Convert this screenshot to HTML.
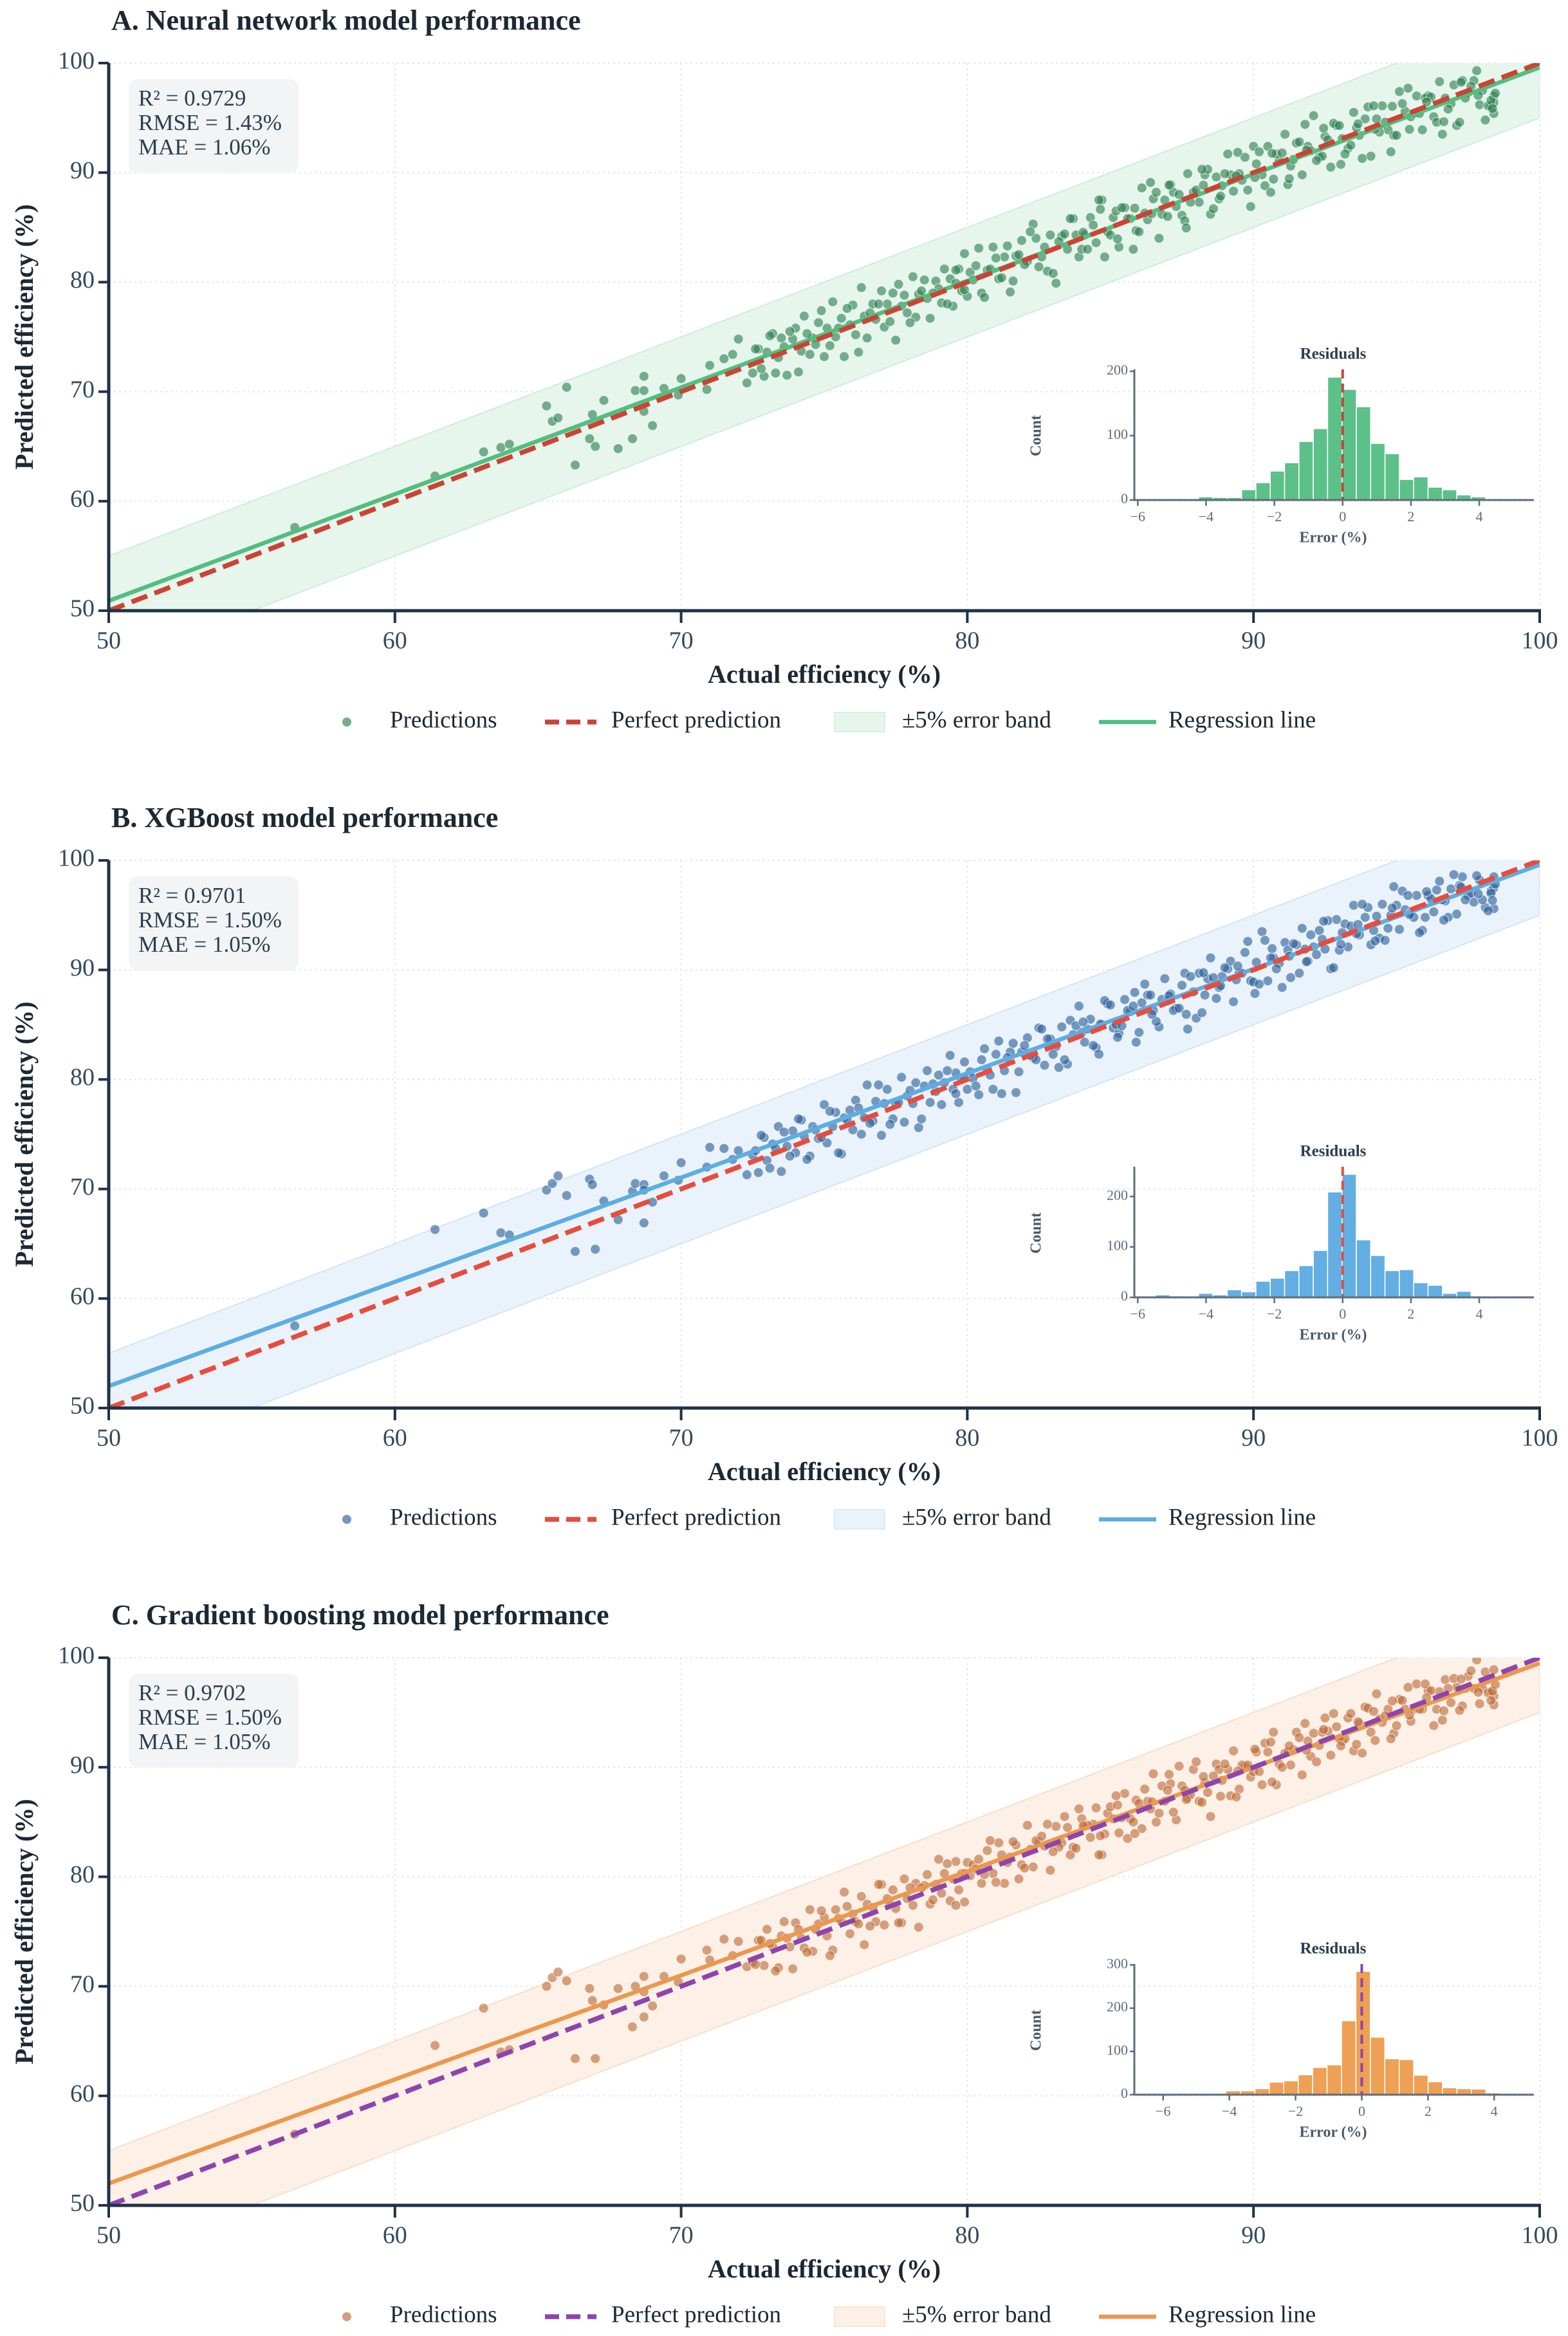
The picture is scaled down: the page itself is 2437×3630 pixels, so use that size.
<!DOCTYPE html>
<html><head><meta charset="utf-8">
<style>
html,body{margin:0;padding:0;background:#fff;}
svg{display:block;font-family:"Liberation Serif",serif;}
</style></head>
<body>
<svg id="chart" width="2437" height="3630" viewBox="0 0 2437 3630" xmlns="http://www.w3.org/2000/svg"></svg>
<script>
// ---------- DATA ----------
const actual = [
56.5,61.4,63.1,63.7,64.0,65.3,65.5,65.7,66.0,66.3,66.8,66.9,67.0,67.3,67.8,68.3,68.4,68.7,68.7,68.7,69.0,69.4,69.9,70.0,70.9,71.0,71.5,71.8,72.0,72.3,
72.5,72.7,72.9,73.0,73.2,73.4,73.5,73.7,73.9,74.0,74.2,74.3,74.5,74.6,74.8,75.0,75.1,75.3,75.4,75.6,75.7,75.9,76.0,76.1,76.3,76.4,76.5,76.7,76.8,77.0,77.1,77.2,77.4,77.5,77.7,77.8,77.9,78.1,78.2,78.3,78.5,78.6,78.7,78.9,79.0,79.1,79.2,79.4,79.5,79.6,79.7,79.8,79.9,80.0,80.1,80.2,
80.3,80.5,80.7,80.9,81.1,81.3,81.5,81.7,81.9,82.1,82.3,82.5,82.7,82.9,83.1,83.3,83.5,83.7,83.9,84.1,84.3,84.5,84.7,84.9,85.1,85.3,85.5,85.7,85.9,86.1,86.3,86.5,86.7,86.9,87.1,87.3,87.5,87.7,87.9,88.1,88.3,88.5,88.7,88.9,89.1,89.3,89.5,89.7,89.9,90.1,90.3,90.5,90.7,90.9,91.1,91.3,91.5,91.7,91.9,92.1,92.3,92.5,92.7,92.9,93.1,93.3,93.5,93.7,93.9,94.1,94.3,94.5,94.7,94.9,95.1,95.3,95.5,95.7,95.9,96.1,96.3,96.5,96.7,96.9,97.1,97.3,97.5,97.7,97.9,98.1,98.3,
82.0,82.4,82.8,83.2,83.6,84.0,84.4,84.8,85.2,85.6,86.0,86.4,86.8,87.2,87.6,88.0,88.4,88.8,89.2,89.6,90.0,90.4,90.8,91.2,91.6,92.0,92.4,92.8,93.2,93.6,94.0,94.4,94.8,95.2,95.6,96.0,96.4,96.8,97.2,97.6,98.0,98.4,98.4,98.4,
72.6,72.8,73.1,73.3,73.6,73.8,74.1,74.4,74.7,74.9,75.2,75.5,75.8,76.2,76.6,76.9,77.3,77.6,78.0,78.4,78.8,79.3,79.6,79.9,80.4,80.6,80.8,81.0,81.2,81.4,
81.6,81.8,82.2,82.6,83.0,83.4,83.8,84.2,84.6,85.0,85.4,85.8,86.2,86.6,87.0,87.4,87.8,88.2,88.6,89.0,89.4,89.8,90.2,90.6,91.0,91.4,91.8,92.2,92.6,93.0,93.4,93.8,94.2,94.6,95.0,95.4,95.8,96.2,96.6,97.0,97.4,97.8,98.2,
84.05,84.65,85.25,85.85,86.45,87.05,87.65,88.25,88.85,89.45,90.05,90.65,91.25,91.85,92.45,93.05,93.65,94.25,94.85,95.45,96.05,96.65,97.25,97.85,98.3,98.35,98.45];
const residA = [
1.1,0.9,1.4,1.2,1.2,3.4,1.8,1.9,4.4,-3.0,-1.1,1.0,-2.0,1.9,-3.0,-2.6,1.7,2.7,1.4,-0.5,-2.1,0.9,-0.2,1.2,-0.7,1.4,1.5,1.6,2.8,-1.5,
-0.8,1.2,-1.5,0.6,2.1,-0.3,1.4,-2.2,0.9,1.8,-0.5,2.6,-1.1,0.3,1.5,-1.8,0.7,2.9,-0.4,1.1,-2.5,0.2,1.9,-0.9,3.2,0.5,-1.6,1.3,-0.2,2.2,-1.2,0.8,1.6,-2.8,0.1,1.0,-0.7,2.4,-1.4,0.6,1.7,-0.1,-2.0,1.2,0.4,-1.0,2.0,0.9,-1.7,0.3,1.5,-0.6,2.7,-1.3,0.8,0.0,
1.2,-1.5,0.4,2.3,-0.8,1.0,-2.4,0.7,1.9,-0.2,3.0,-1.1,0.5,1.4,-3.2,0.9,-0.5,2.1,-1.6,0.2,1.6,-0.9,2.8,-0.3,0.8,-2.1,1.3,0.1,-1.2,2.5,-0.6,1.1,-2.7,0.6,1.8,-0.4,-1.4,2.2,0.3,-0.8,1.5,-2.3,0.9,-0.1,2.6,-1.0,0.4,1.7,-3.0,0.7,-0.5,1.9,-1.3,0.2,2.4,-0.7,1.2,-1.9,0.5,3.1,-0.9,0.8,-2.2,1.4,0.0,-1.1,2.0,-0.3,1.0,-2.6,0.6,1.6,-0.8,-1.5,2.3,0.3,-0.4,1.3,-2.0,0.9,-1.2,1.8,0.1,-0.6,-2.8,1.1,-0.2,0.7,-1.7,-3.3,-2.2,
-0.4,1.6,-1.8,0.5,2.2,-1.0,0.8,-2.5,1.3,0.2,-1.4,2.7,-0.6,1.0,-2.0,0.4,1.9,-1.2,0.6,-0.3,2.4,-1.6,0.9,-2.3,1.2,0.0,-0.9,1.7,-1.5,0.5,2.0,-0.7,-2.9,1.1,-0.2,0.8,-1.8,-1.0,-2.6,0.3,-0.5,-1.4,-3.0,-2.0,
1.3,-0.7,2.0,-1.6,0.5,1.7,-2.3,0.9,-0.4,2.5,-1.0,0.3,1.8,-2.6,0.6,1.1,-0.9,2.2,-1.7,0.8,0.2,-1.3,1.5,-0.6,2.7,-2.0,0.4,1.2,-0.8,1.9,
-1.5,0.7,2.4,-0.3,-2.2,1.0,0.5,-1.2,2.9,-0.7,1.4,-2.8,0.1,1.6,-1.0,0.6,-0.5,2.1,-1.9,0.9,0.3,-1.4,1.7,-2.4,0.8,-0.2,2.6,-1.1,0.4,1.3,-0.9,-2.5,1.9,0.0,-1.6,2.3,-0.4,0.7,-3.1,1.0,-0.6,1.5,-2.1,
0.5,2.0,-1.3,0.9,-0.2,1.8,-2.7,0.6,-1.0,2.4,-0.5,1.1,-1.8,0.2,1.6,-2.3,0.8,-0.3,1.2,-1.5,0.4,-2.0,1.0,-0.8,-1.7,-2.5,-1.2];
const residB = [
1.0,4.9,4.7,2.3,1.8,4.6,5.0,5.5,3.4,-2.0,4.1,3.5,-2.5,1.6,-0.6,1.5,2.1,1.7,1.2,-1.8,-0.2,1.8,0.9,2.4,1.1,2.8,2.2,0.9,1.5,-1.0,
0.6,-1.2,1.8,-0.4,0.9,2.3,-1.9,0.2,1.4,-0.7,2.1,0.5,-1.5,1.1,-0.2,2.7,-0.9,0.4,1.6,-2.4,0.8,1.3,-0.6,2.0,-1.3,0.1,3.0,-0.5,1.2,-2.1,0.7,1.9,-1.0,0.3,2.5,-1.7,0.6,-0.3,1.5,-2.7,0.9,2.2,-0.8,0.0,1.4,-1.4,0.5,2.8,-0.4,1.0,-1.8,0.2,1.7,-0.9,0.6,-0.1,
-0.9,1.3,0.2,-1.8,2.4,-0.5,1.0,-2.9,0.6,1.7,-0.3,2.2,-1.4,0.8,-0.1,1.5,-2.1,0.4,2.8,-0.7,1.2,-1.6,0.3,2.0,-0.4,-1.1,1.8,0.5,-2.5,0.9,1.4,-0.2,-1.9,2.3,0.7,-0.8,1.1,-3.1,0.1,1.6,-0.6,2.6,-1.3,0.5,1.0,-2.2,0.2,1.9,-0.9,0.6,3.2,-1.5,0.4,-0.3,1.4,-2.0,0.8,2.1,-1.1,0.0,1.3,-0.6,-2.6,1.7,0.3,-1.2,2.4,-0.5,0.9,-1.8,0.6,1.5,-0.9,2.7,-1.4,0.2,-0.3,1.1,-2.3,0.7,-1.0,1.6,-0.4,0.5,-2.0,1.2,-0.7,-1.5,0.3,-2.4,-1.1,
1.1,-0.6,0.9,-2.1,1.8,0.3,-1.3,2.4,-0.2,0.7,-1.7,1.3,0.5,-0.9,2.1,-2.4,0.8,-0.4,1.6,0.1,-1.1,2.3,-0.7,0.6,-1.9,1.2,0.4,-2.6,1.0,-0.3,1.7,-1.5,0.2,2.0,-0.8,-1.2,0.9,-2.0,0.5,-0.6,-1.6,-0.9,-2.8,0.1,
0.9,2.1,-1.2,0.4,1.6,-0.8,2.3,-1.7,0.7,-0.2,1.9,-2.2,0.5,1.2,-0.6,2.6,-1.4,0.3,1.0,-2.0,0.8,1.5,-0.9,0.2,-1.8,2.2,-0.4,1.3,-2.5,0.6,
1.7,-1.1,0.0,2.0,-0.7,-1.6,1.1,0.4,-2.3,1.8,-0.5,0.9,2.5,-1.3,0.2,-0.9,1.6,-2.1,0.7,1.2,-0.3,2.8,-1.5,0.5,-2.6,1.0,0.1,-0.8,1.9,-1.2,0.6,2.2,-0.6,-1.9,0.9,1.4,-2.4,0.3,-0.2,1.7,-1.0,0.8,-2.8,
1.2,0.4,-1.4,2.1,-0.5,0.6,-1.7,1.5,-0.3,0.9,-2.2,1.3,0.0,-1.1,2.0,-0.7,0.5,-1.6,0.8,-0.4,1.1,-2.1,0.3,-0.9,-1.3,-2.0,-0.6];
const residC = [
0.0,3.2,4.9,0.3,0.2,4.7,5.3,5.6,4.5,-2.9,3.0,1.8,-3.6,1.0,2.0,-2.0,1.6,0.8,2.2,-1.5,-0.8,1.5,0.5,2.5,2.4,1.4,2.8,1.0,2.1,-0.5,
-0.3,1.5,-1.0,2.2,0.4,-1.7,1.1,0.7,-2.3,1.8,0.2,-0.8,2.5,-1.4,0.9,1.3,-0.5,-2.0,1.6,0.3,2.9,-1.1,0.6,-0.2,1.9,-2.6,1.0,0.5,-0.9,2.3,-1.5,0.8,1.4,-0.4,-1.9,2.0,0.1,-0.7,1.2,-2.9,0.7,1.6,-1.2,0.4,2.6,-0.6,1.1,-1.6,0.3,1.8,-0.9,0.5,-2.2,1.3,0.0,0.9,
0.4,-1.1,1.7,-0.6,2.0,-1.9,0.3,1.2,-0.8,2.6,-1.4,0.7,0.1,-2.3,1.5,-0.2,1.0,-1.0,2.3,0.5,-0.7,1.8,-2.7,0.9,0.2,-1.3,2.1,-0.4,1.1,-1.7,0.6,2.9,-0.9,0.0,1.4,-2.1,0.8,-0.5,1.9,-1.2,0.3,-3.0,1.6,-0.1,0.7,2.2,-1.5,0.4,-0.8,1.3,-1.9,0.9,2.5,-0.6,0.2,-1.1,1.7,-2.4,0.5,1.0,-0.3,2.0,-1.6,0.8,-0.7,1.2,-2.0,0.3,1.6,-0.9,2.4,-0.4,0.6,-1.8,1.1,0.0,-1.3,1.9,-0.6,0.9,-2.5,0.4,1.3,-1.0,0.2,-1.7,0.8,-0.5,-2.1,0.6,-1.4,
-1.2,0.9,2.0,-0.5,-1.6,1.3,0.4,-0.9,2.2,-2.1,0.7,-0.2,1.5,-1.3,0.3,2.5,-0.7,1.0,-1.8,0.6,-0.4,1.8,-2.4,0.2,1.1,-1.0,0.8,2.1,-0.6,-1.5,1.4,0.0,-2.2,0.9,-0.3,1.6,-1.1,0.4,-2.0,1.2,-0.8,-1.9,0.5,-2.7,
-0.6,1.4,0.8,-1.9,2.3,-0.2,1.1,-1.3,0.5,2.0,-2.4,0.7,1.5,-0.5,-1.1,2.4,0.2,-1.8,1.0,0.6,-0.9,1.9,-2.2,0.4,1.2,-0.4,2.5,-1.5,0.8,-0.1,
1.6,-2.0,0.3,1.1,-0.7,2.1,-1.2,0.5,-2.6,1.4,0.0,-0.8,1.8,-1.6,0.9,2.7,-0.3,-1.4,0.6,1.3,-2.1,0.4,-0.6,1.7,-1.0,0.2,2.2,-1.7,0.7,-0.4,1.5,-2.5,0.9,0.1,-1.2,1.9,-0.5,0.8,-2.3,1.1,-0.2,2.0,-1.4,
0.6,-0.9,1.3,-1.9,0.4,2.3,-0.6,0.9,-1.5,0.2,1.6,-2.0,0.7,-0.3,1.0,-1.1,0.5,-1.8,1.2,-0.7,0.3,-1.5,0.8,-1.0,-2.2,-1.4,-0.9];

// regression line endpoints [y at x=50, y at x=100]
const regA = [50.9, 99.6];
const regB = [52.0, 99.6];
const regC = [52.0, 99.5];

// residual histograms
const histA = [1,1,2,5,4,4,16,27,45,58,91,111,191,172,145,88,72,32,36,20,16,8,5];
const histB = [5,3,1,8,5,15,11,32,38,53,63,93,209,244,114,83,53,55,29,24,8,12];
const histC = [9,9,14,29,32,46,63,69,171,285,133,83,81,45,30,16,14,13,4];
const binStartA = -5.48, binWidthA = 0.42;
const binStartB = -5.48, binWidthB = 0.42;
const binStartC = -4.10, binWidthC = 0.436;

const mainTicks = [50,60,70,80,90,100];
const insetXTicks = [-6,-4,-2,0,2,4];
const insetYTicksAB = [0,100,200];
const insetYTicksC = [0,100,200,300];

const titles = ["A. Neural network model performance","B. XGBoost model performance","C. Gradient boosting model performance"];
const statsA = ["R\u00b2 = 0.9729","RMSE = 1.43%","MAE = 1.06%"];
const statsB = ["R\u00b2 = 0.9701","RMSE = 1.50%","MAE = 1.05%"];
const statsC = ["R\u00b2 = 0.9702","RMSE = 1.50%","MAE = 1.05%"];
const legendLabels = ["Predictions","Perfect prediction","\u00b15% error band","Regression line"];

// ---------- DRAW ----------
const NS = "http://www.w3.org/2000/svg";
const svg = document.getElementById("chart");
function mk(tag, attrs, parent, text){
  const e = document.createElementNS(NS, tag);
  for (const k in attrs) e.setAttribute(k, attrs[k]);
  if (text !== undefined) e.textContent = text;
  parent.appendChild(e);
  return e;
}
const X0 = 169, X1 = 2393, H = 851;
function sx(v){ return X0 + (v-50)/50*(X1-X0); }
function sy(v){ return (100-v)/50*H; }

function drawPanel(p){
  const g = mk("g", {transform:"translate(0,"+p.top+")"}, svg);
  
  

  const t = mk("text", {x:173, y:-62, "font-size":44, "font-weight":"bold", fill:"#1c2833", "dominant-baseline":"middle"}, g, p.title);
  
  

  const clipId = "clip-" + p.key;
  const defs = mk("defs", {}, g);
  const cp = mk("clipPath", {id:clipId}, defs);
  mk("rect", {x:X0, y:0, width:X1-X0, height:H}, cp);

  const grid = mk("g", {}, g);
  
  
  mainTicks.forEach(v=>{
    mk("line",{x1:sx(v),x2:sx(v),y1:0,y2:H,stroke:"#e3e6ea","stroke-width":2,"stroke-dasharray":"3,5"},grid);
    mk("line",{x1:X0,x2:X1,y1:sy(v),y2:sy(v),stroke:"#e3e6ea","stroke-width":2,"stroke-dasharray":"3,5"},grid);
  });

  const plot = mk("g", {"clip-path":"url(#"+clipId+")"}, g);
  const band = mk("polygon", {points:
    sx(50)+","+sy(45)+" "+sx(100)+","+sy(95)+" "+sx(100)+","+sy(105)+" "+sx(50)+","+sy(55),
    fill:p.band, stroke:p.bandEdge, "stroke-width":2}, plot);
  
  

  const pts = mk("g", {}, plot);
  
  
  for (let i=0;i<actual.length;i++){
    const r = p.resid[i];
    if (r === undefined) continue;
    const c = mk("circle", {cx:sx(actual[i]).toFixed(1), cy:sy(actual[i]+r).toFixed(1), r:7.5,
      fill:p.pt, "fill-opacity":0.62, stroke:"#ffffff", "stroke-width":1.2, "stroke-opacity":0.6}, pts);
    
    
  }
  const rl = mk("line", {x1:sx(50),y1:sy(p.reg[0]),x2:sx(100),y2:sy(p.reg[1]),stroke:p.regColor,"stroke-width":6.5}, plot);
  
  
  const pl = mk("line", {x1:sx(50),y1:sy(50),x2:sx(100),y2:sy(100),stroke:p.perf,"stroke-width":7.5,"stroke-dasharray":"26,12"}, plot);
  
  

  const ax = mk("g", {}, g);
  
  
  mk("line",{x1:X0,x2:X1+2,y1:H,y2:H,stroke:"#1f3247","stroke-width":5},ax);
  mk("line",{x1:X0,x2:X0,y1:0,y2:H+2,stroke:"#1f3247","stroke-width":5},ax);
  mainTicks.forEach(v=>{
    mk("line",{x1:sx(v),x2:sx(v),y1:H,y2:H+19,stroke:"#1f3247","stroke-width":4},ax);
    const tx = mk("text",{x:sx(v),y:H+50,"font-size":38,fill:"#34495e","text-anchor":"middle","dominant-baseline":"middle"},ax,String(v));
    
    
    mk("line",{x1:X0-16,x2:X0,y1:sy(v),y2:sy(v),stroke:"#1f3247","stroke-width":4},ax);
    const ty = mk("text",{x:X0-22,y:sy(v),"font-size":38,fill:"#34495e","text-anchor":"end","dominant-baseline":"middle"},ax,String(v));
    
    
  });
  const xt = mk("text",{x:(X0+X1)/2,y:H+103,"font-size":40,"font-weight":"bold",fill:"#1c2833","text-anchor":"middle","dominant-baseline":"middle"},g,"Actual efficiency (%)");
  
  
  const yt = mk("text",{x:0,y:0,"font-size":40,"font-weight":"bold",fill:"#1c2833","text-anchor":"middle","dominant-baseline":"middle",transform:"translate(42,"+(H/2)+") rotate(-90)"},g,"Predicted efficiency (%)");
  
  

  const sb = mk("g",{},g);
  
  
  mk("rect",{x:200,y:25,width:264,height:146,rx:14,fill:"#f2f4f6"},sb);
  p.stats.forEach((s,i)=>{
    mk("text",{x:215,y:58+i*38,"font-size":35,fill:"#2c3e50","dominant-baseline":"middle"},sb,s);
  });

  const ins = mk("g",{},g);
  
  
  const IX0=1763, IX1=2384, IB=679, IH=203;
  const ix = v => IX0 + (v-p.ixMin)/(p.ixMax-p.ixMin)*(IX1-IX0);
  const iy = v => IB - v/p.iyMax*IH;
  p.hist.forEach((c,i)=>{
    const a = p.binStart + i*p.binWidth;
    const b = mk("rect",{x:ix(a),y:iy(c),width:ix(a+p.binWidth)-ix(a),height:IB-iy(c),fill:p.histColor,stroke:"#ffffff","stroke-width":1.5},ins);
    
    
  });
  mk("line",{x1:ix(0),x2:ix(0),y1:IB-IH,y2:IB,stroke:p.perf,"stroke-width":4,"stroke-dasharray":"14,8"},ins);
  mk("line",{x1:IX0,x2:IX1,y1:IB,y2:IB,stroke:"#5d6d7e","stroke-width":3},ins);
  mk("line",{x1:IX0,x2:IX0,y1:IB-IH,y2:IB,stroke:"#5d6d7e","stroke-width":3},ins);
  insetXTicks.forEach(v=>{
    mk("line",{x1:ix(v),x2:ix(v),y1:IB,y2:IB+9,stroke:"#5d6d7e","stroke-width":2.5},ins);
    mk("text",{x:ix(v),y:IB+28,"font-size":22,fill:"#5d6d7e","text-anchor":"middle","dominant-baseline":"middle"},ins,v<0?"\u2212"+(-v):String(v));
  });
  p.iyTicks.forEach(v=>{
    mk("line",{x1:IX0-7,x2:IX0,y1:iy(v),y2:iy(v),stroke:"#5d6d7e","stroke-width":2.5},ins);
    mk("text",{x:IX0-10,y:iy(v),"font-size":22,fill:"#5d6d7e","text-anchor":"end","dominant-baseline":"middle"},ins,String(v));
  });
  mk("text",{x:2072,y:IB-225,"font-size":25,"font-weight":"bold",fill:"#2c3e50","text-anchor":"middle","dominant-baseline":"middle"},ins,"Residuals");
  mk("text",{x:2072,y:IB+60,"font-size":24,"font-weight":"bold",fill:"#4a5a6a","text-anchor":"middle","dominant-baseline":"middle"},ins,"Error (%)");
  mk("text",{x:0,y:0,"font-size":24,"font-weight":"bold",fill:"#4a5a6a","text-anchor":"middle","dominant-baseline":"middle",transform:"translate(1612,"+(IB-100)+") rotate(-90)"},ins,"Count");

  const lg = mk("g",{},g);
  
  
  const LY = 1024;
  mk("circle",{cx:539,cy:LY,r:7,fill:p.pt,"fill-opacity":0.65},lg);
  mk("line",{x1:847,x2:927,y1:LY,y2:LY,stroke:p.perf,"stroke-width":7.5,"stroke-dasharray":"22,11"},lg);
  mk("rect",{x:1297,y:LY-15,width:78,height:30,fill:p.band,stroke:p.bandEdge,"stroke-width":1.5},lg);
  mk("line",{x1:1708,x2:1797,y1:LY,y2:LY,stroke:p.regColor,"stroke-width":6.5},lg);
  const lx = [606,950,1402,1816];
  legendLabels.forEach((s,i)=>{
    const le = mk("text",{x:lx[i],y:LY,"font-size":37,fill:"#1c2833","dominant-baseline":"middle"},lg,s);
    
    
  });
}

drawPanel({key:"neural-network",top:98,title:titles[0],resid:residA,reg:regA,stats:statsA,
  pt:"#2a7f4f",regColor:"#52be80",perf:"#cb4335",band:"#e6f6ec",bandEdge:"#cdeedb",histColor:"#5cc089",
  hist:histA,binStart:binStartA,binWidth:binWidthA,ixMin:-6.1,ixMax:5.6,iyMax:203,iyTicks:insetYTicksAB});
drawPanel({key:"xgboost",top:1337,title:titles[1],resid:residB,reg:regB,stats:statsB,
  pt:"#2a5f9a",regColor:"#5dade2",perf:"#e74c3c",band:"#eaf3fc",bandEdge:"#d3e5f5",histColor:"#63aee2",
  hist:histB,binStart:binStartB,binWidth:binWidthB,ixMin:-6.1,ixMax:5.6,iyMax:259,iyTicks:insetYTicksAB});
drawPanel({key:"gradient-boosting",top:2576,title:titles[2],resid:residC,reg:regC,stats:statsC,
  pt:"#bd6a36",regColor:"#eb984e",perf:"#8e44ad",band:"#fdf0e6",bandEdge:"#f8dfcb",histColor:"#eea055",
  hist:histC,binStart:binStartC,binWidth:binWidthC,ixMin:-6.87,ixMax:5.2,iyMax:302,iyTicks:insetYTicksC});
</script>
</body></html>
